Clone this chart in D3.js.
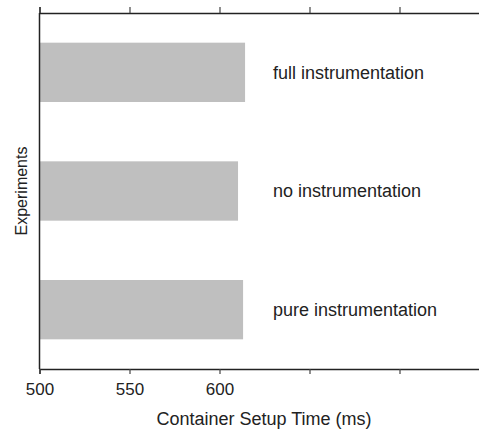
<!DOCTYPE html>
<html>
<head>
<meta charset="utf-8">
<script src="https://cdn.jsdelivr.net/npm/d3@7"></script>
<style>
  body { margin: 0; background: #fff; }
  svg { display: block; font-family: "Liberation Sans", Arial, sans-serif; }
</style>
</head>
<body>
<svg width="479" height="430"></svg>
<script>
// data
const experiments = ['full instrumentation', 'no instrumentation', 'pure instrumentation'];
const setupTimes = [614.2, 610.3, 613.1];
const xTicks = [500, 550, 600, 650, 700];
const xTickLabels = ['500', '550', '600', '', ''];

const svg = d3.select('svg');
const plotLeft = 39.5, plotTop = 13, plotBottom = 369;

const x = d3.scaleLinear()
  .domain([500, 750])
  .range([plotLeft, plotLeft + 450]);

const y = d3.scaleBand()
  .domain(experiments)
  .range([plotTop, plotBottom])
  .paddingInner(0.5)
  .paddingOuter(0.25);

// bars
svg.append('g')
  .selectAll('rect')
  .data(experiments)
  .enter()
  .append('rect')
  .attr('x', x(500))
  .attr('y', d => y(d))
  .attr('width', (d, i) => x(setupTimes[i]) - x(500))
  .attr('height', y.bandwidth())
  .attr('fill', '#bfbfbf');

// bar labels
svg.append('g')
  .selectAll('text')
  .data(experiments)
  .enter()
  .append('text')
  .attr('x', 273)
  .attr('y', d => y(d) + y.bandwidth() / 2)
  .attr('dy', '0.35em')
  .attr('font-size', 18)
  .attr('fill', '#222')
  .text(d => d);

// axes
const xAxisBottom = d3.axisBottom(x)
  .tickValues(xTicks)
  .tickFormat((d, i) => xTickLabels[i])
  .tickSize(5)
  .tickPadding(9);

const gb = svg.append('g')
  .attr('transform', `translate(0, ${plotBottom})`)
  .call(xAxisBottom);

const gt = svg.append('g')
  .attr('transform', `translate(0, ${plotTop})`)
  .call(d3.axisTop(x).tickValues(xTicks).tickFormat('').tickSize(6));

[gb, gt].forEach(g => {
  g.select('.domain').attr('stroke', '#222').attr('stroke-width', 1.5);
  g.selectAll('.tick line').attr('stroke', '#444').attr('stroke-width', 1.2);
  g.selectAll('.tick text')
    .attr('font-size', 17)
    .attr('font-family', '"Liberation Sans", Arial, sans-serif')
    .attr('fill', '#222');
});

// left spine
svg.append('line')
  .attr('x1', plotLeft).attr('x2', plotLeft)
  .attr('y1', plotTop).attr('y2', plotBottom)
  .attr('stroke', '#222')
  .attr('stroke-width', 1.5);

// axis labels
svg.append('text')
  .attr('x', 264)
  .attr('y', 425)
  .attr('text-anchor', 'middle')
  .attr('font-size', 18)
  .attr('fill', '#222')
  .text('Container Setup Time (ms)');

svg.append('text')
  .attr('transform', `translate(27, ${(plotTop + plotBottom) / 2}) rotate(-90)`)
  .attr('text-anchor', 'middle')
  .attr('font-size', 16)
  .attr('fill', '#222')
  .text('Experiments');
</script>
</body>
</html>
